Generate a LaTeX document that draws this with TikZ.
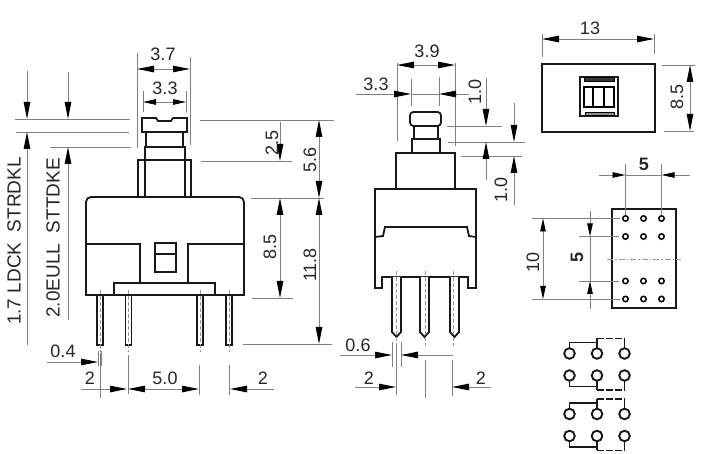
\documentclass[tikz,border=0pt]{standalone}
\usepackage{fontspec}
\setmainfont{Liberation Sans}
\usetikzlibrary{arrows.meta}
\tikzset{
  body/.style={black!90, line width=1.8pt, line join=miter},
  thin body/.style={black, line width=1.2pt},
  dimline/.style={black!50, line width=0.9pt},
  tip/.style={dimline, -{Triangle[color=black, length=17pt, width=6.5pt]}},
  tips/.style={dimline, {Triangle[color=black, length=17pt, width=6.5pt]}-{Triangle[color=black, length=17pt, width=6.5pt]}},
  smalltip/.style={dimline, -{Triangle[color=black, length=13pt, width=5.5pt]}},
  smalltips/.style={dimline, {Triangle[color=black, length=13pt, width=5.5pt]}-{Triangle[color=black, length=13pt, width=5.5pt]}},
  axis/.style={black!40, line width=0.9pt, dash pattern=on 6pt off 2pt on 1.5pt off 2pt},
  dimtext/.style={inner sep=0pt, text=black!85, font=\fontsize{18}{20}\selectfont},
  sidetext/.style={dimtext, rotate=90},
  longtext/.style={sidetext, font=\fontsize{19}{21}\selectfont},
  boldtext/.style={font=\fontsize{18}{20}\bfseries\selectfont},
  hole/.style={black, line width=1.5pt},
  contact/.style={black!90, line width=1.9pt},
  openlink/.style={contact, dash pattern=on 7pt off 2pt}
}
\begin{document}
\begin{tikzpicture}[x=1pt, y=-1pt]
\useasboundingbox (0,0) rectangle (713,454);
% front view
\draw[body] (142,118)--(156,118)--(158,121)--(171,121)--(173,118)--(187,118)--(187,132)--(142,132)--cycle;
\draw[body] (146,132)--(146,147) (183,132)--(183,147);
\draw[body] (145,197)--(145,147)--(185,147)--(185,197);
\draw[body] (138,197)--(138,160)--(191,160)--(191,197);
\draw[body] (145,160)--(185,160);
\draw[body] (86,295) [rounded corners=5pt] --(86,197)--(244,197) [sharp corners] --(244,295)--cycle;
\draw[body] (86,244)--(140,244)--(140,283);
\draw[body] (244,244)--(188,244)--(188,283);
\draw[body] (114,295)--(114,283)--(215,283)--(215,295);
\draw[body] (155,243) rectangle (176,272);
\draw[body] (155,254)--(176,254);
\foreach \pinx in {100,128.5,200,229}{
  \draw[body, line width=1.6pt] (\pinx-3,295) rectangle (\pinx+3,345);
  \draw[axis, dash pattern=on 4pt off 2pt] (\pinx,290)--(\pinx,352);
}
% front view, left side
\draw[dimline] (15,119)--(130,119);
\draw[dimline] (16,132)--(129,132);
\draw[dimline] (50,147)--(131,147);
\draw[tip] (27,71)--(27,119);
\draw[tip] (27,345)--(27,132);
\draw[tip] (68,72)--(68,119);
\draw[tip] (68,320)--(68,147);
\node[longtext] (ldck) at (14,241) {1.7 LDCK\ \ STRDKL};
\node[longtext] (eull) at (53,238) {2.0EULL\ \ STTDKE};
% front view, top
\draw[dimline] (137,53)--(137,148);
\draw[dimline] (190,57)--(190,145);
\draw[tips] (137,69)--(190,69);
\node[dimtext] (wa) at (163,54) {3.7};
\draw[dimline] (143,91)--(143,112);
\draw[dimline] (186,91)--(186,112);
\draw[smalltips] (143,102)--(186,102);
\node[dimtext] (wb) at (165,88) {3.3};
% front view, right side
\draw[dimline] (200,120)--(334,120);
\draw[dimline] (201,161)--(292,161);
\draw[dimline] (251,198)--(324,198);
\draw[dimline] (252,298)--(293,298);
\draw[dimline] (243,344)--(332,344);
\draw[tip] (280,122)--(280,161);
\draw[tips] (280,198)--(280,298);
\draw[tips] (319,120)--(319,198);
\draw[tips] (319,198)--(319,344);
\node[sidetext] (ha) at (272,143) {2.5};
\node[sidetext] (hb) at (270,247) {8.5};
\node[sidetext] (hc) at (310,160) {5.6};
\node[sidetext] (hd) at (310,265) {11.8};
% front view, bottom
\draw[dimline] (98.5,351)--(98.5,366);
\draw[dimline] (101.5,351)--(101.5,366);
\draw[tip] (47,362)--(98,362);
\node[dimtext] (pw) at (63,351) {0.4};
\draw[dimline] (100,353)--(100,398);
\draw[dimline] (128,355)--(128,394);
\draw[dimline] (199,365)--(199,395);
\draw[dimline] (229,365)--(229,395);
\draw[tip] (81,389)--(127,389);
\draw[tips] (128,389)--(199,389);
\draw[tip] (274,389)--(230,389);
\node[dimtext] (pa) at (90,378) {2};
\node[dimtext] (pb) at (165,378) {5.0};
\node[dimtext] (pc) at (263,378) {2};
% side view
\draw[body, rounded corners=3.5pt] (410,112)--(441,112)--(441,126)--(410,126)--cycle;
\draw[body] (414,126)--(414,139) (438,126)--(438,139);
\draw[body] (412,153)--(412,139)--(440,139)--(440,153);
\draw[body] (396,189)--(396,153)--(455,153)--(455,189);
\draw[body] (375,237)--(375,189)--(476,189)--(476,237);
\draw[body] (375,237)--(383,236)--(385,227)--(467,227)--(469,236)--(476,237);
\draw[body] (375,237)--(375,288)--(382,288)--(382,277)--(468,277)--(468,288)--(476,288)--(476,237);
\foreach \pinx/\axisx in {392/396,420/425,450/453}{
  \draw[body, fill=white] (\pinx,277)--(\pinx,332)--(\pinx+4.5,337)--(\pinx+9,332)--(\pinx+9,277);
  \draw[axis, dash pattern=on 4pt off 2pt] (\axisx,271)--(\axisx,346);
}
% side view, top
\draw[dimline] (397,63)--(397,141);
\draw[dimline] (455,63)--(455,146);
\draw[tips] (397,65)--(455,65);
\node[dimtext] (wc) at (427,51) {3.9};
\draw[dimline] (411,79)--(411,106);
\draw[dimline] (439,77)--(439,106);
\draw[tip] (356,94)--(411,94);
\draw[tip] (469,94)--(439,94);
\draw[dimline] (411,94)--(439,94);
\node[dimtext] (wd) at (376,84) {3.3};
% side view, right side
\draw[dimline] (447,126)--(502,126);
\draw[dimline] (448,142)--(525,142);
\draw[dimline] (461,156)--(522,156);
\draw[tip] (486,78)--(486,126);
\draw[tip] (486,180)--(486,142);
\draw[tip] (514,103)--(514,142);
\draw[tip] (514,205)--(514,156);
\node[sidetext] (te) at (475,92) {1.0};
\node[sidetext] (tf) at (501,190) {1.0};
% side view, bottom
\draw[dimline] (392,342)--(392,367);
\draw[dimline] (401,342)--(401,367);
\draw[tip] (340,355)--(392,355);
\draw[tip] (453,355)--(401,355);
\node[dimtext] (pe) at (358,345) {0.6};
\draw[dimline] (396,345)--(396,395);
\draw[dimline] (425,360)--(425,398);
\draw[dimline] (452,360)--(452,396);
\draw[tip] (355,387)--(396,387);
\draw[tip] (491,387)--(452,387);
\node[dimtext] (pf) at (369,378) {2};
\node[dimtext] (pg) at (481,378) {2};
% top view
\draw[body] (542,64) rectangle (655,132);
\draw[body] (580,77) rectangle (618,116);
\draw[black, fill=black!80] (584,77.5) rectangle (614,81);
\draw[black, fill=black!45, line width=0.8pt] (585,112.5) rectangle (614,115.5);
\draw[thin body, line width=1.4pt] (584,87) rectangle (614,107);
\draw[thin body] (593,87)--(593,107) (604,87)--(604,107);
\draw[dimline] (542,34)--(542,57);
\draw[dimline] (654,34)--(654,54);
\draw[tips] (542,39)--(654,39);
\node[dimtext] (we) at (590,28) {13};
\draw[dimline] (662,65)--(695,65);
\draw[dimline] (664,131)--(694,131);
\draw[tips] (690,65)--(690,131);
\node[sidetext] (he) at (677,97) {8.5};
% footprint
\draw[body] (612,209) rectangle (676,308);
\draw[axis] (607,259)--(681,259);
\draw[dimline] (625.5,164)--(625.5,215);
\draw[dimline] (661.5,164)--(661.5,215);
\draw[dimline] (532,218.5)--(620,218.5);
\draw[dimline] (532,299)--(620,299);
\draw[dimline] (579,236.5)--(619,236.5);
\draw[dimline] (579,281)--(619,281);
\foreach \holex in {625.5,643.5,661.5}
  \foreach \holey in {218.5,236.5,281,299}
    \draw[hole] (\holex,\holey) circle (2.7);
\draw[smalltip] (599,175)--(625.5,175);
\draw[smalltip] (690,175)--(661.5,175);
\draw[dimline] (625.5,175)--(661.5,175);
\node[dimtext, boldtext] (wf) at (644,164) {5};
\draw[smalltips] (543,218.5)--(543,299);
\node[sidetext] (hf) at (533,262) {10};
\draw[smalltip] (590,211)--(590,236.5);
\draw[smalltip] (590,309)--(590,281);
\draw[dimline] (590,236.5)--(590,281);
\node[sidetext, boldtext] (hg) at (577,257) {5};
% contacts
\foreach \groupy in {0,60.5}{
  \foreach \contactx in {569.5,597,624.5}{
    \draw[contact] (\contactx,353.5+\groupy) circle (5.3);
    \draw[contact] (\contactx,375.5+\groupy) circle (5.3);
  }
  \draw[contact] (569.5,348.5+\groupy)--(569.5,342.5+\groupy)--(597,342.5+\groupy)--(597,348.5+\groupy);
  \draw[contact] (597,342.5+\groupy)--(597,338.5+\groupy);
  \draw[openlink] (597,338.5+\groupy)--(624.5,338.5+\groupy);
  \draw[contact] (624.5,338.5+\groupy)--(624.5,348.5+\groupy);
  \draw[contact] (569.5,380.5+\groupy)--(569.5,386.5+\groupy)--(597,386.5+\groupy)--(597,380.5+\groupy);
  \draw[contact] (597,386.5+\groupy)--(597,390+\groupy);
  \draw[openlink] (597,390+\groupy)--(624.5,390+\groupy);
  \draw[contact] (624.5,390+\groupy)--(624.5,380.5+\groupy);
}
\end{tikzpicture}
\end{document}
